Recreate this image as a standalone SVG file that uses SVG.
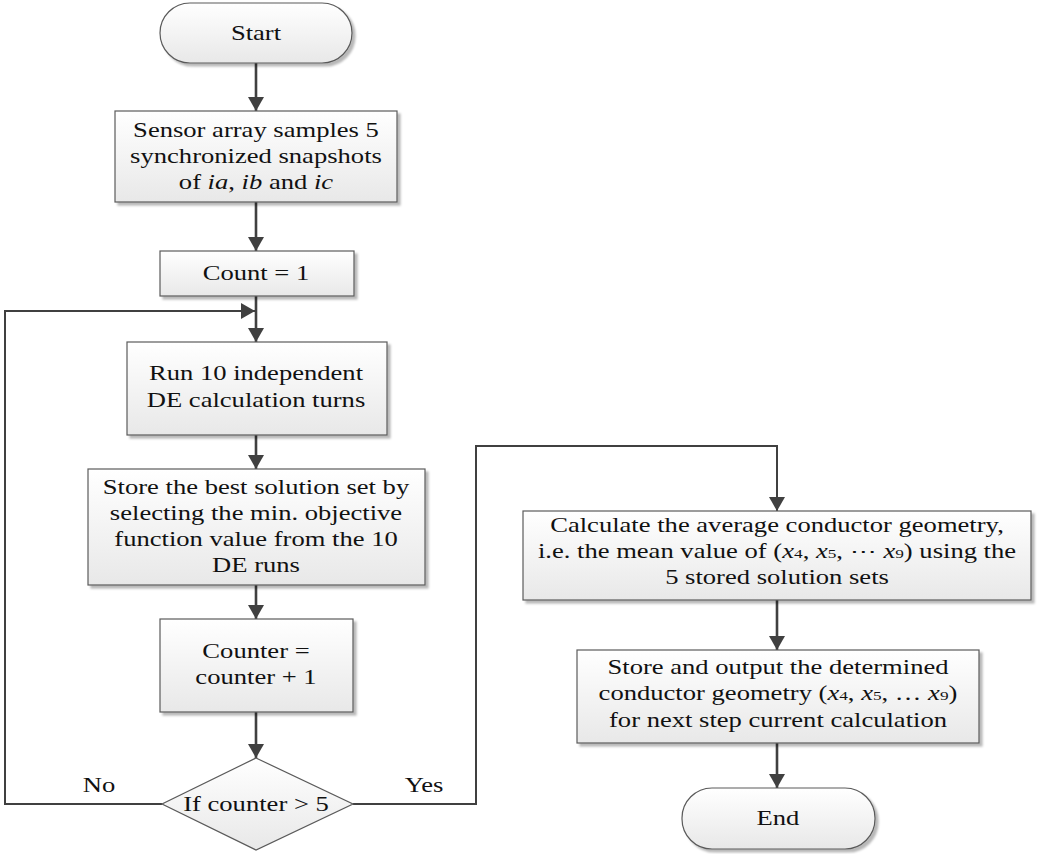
<svg xmlns="http://www.w3.org/2000/svg" width="1037" height="854" viewBox="0 0 1037 854">
  <defs>
    <linearGradient id="boxFill" x1="0" y1="0" x2="0" y2="1">
      <stop offset="0" stop-color="#ffffff"/>
      <stop offset="1" stop-color="#e8e8e8"/>
    </linearGradient>
    <filter id="shadow" x="-10%" y="-10%" width="130%" height="140%">
      <feDropShadow dx="3" dy="3" stdDeviation="1" flood-color="#000000" flood-opacity="0.28"/>
    </filter>
    <marker id="arrow" viewBox="0 0 14 16" refX="14" refY="8" markerWidth="14" markerHeight="16" markerUnits="userSpaceOnUse" orient="auto">
      <path d="M0,0 L14,8 L0,16 Z" fill="#404040"/>
    </marker>
  </defs>
  <style>
    .shape { fill: url(#boxFill); stroke: #5a5a5a; stroke-width: 1.2; }
    .shadowed { filter: url(#shadow); }
    .label { font-family: "Liberation Serif", "Times New Roman", serif; font-size: 20px; fill: #111111; text-anchor: middle; }
    .it { font-style: italic; }
    .sub { font-size: 13px; }
    .conn { fill: none; stroke: #404040; stroke-width: 2.6; }
    .loop { fill: none; stroke: #404040; stroke-width: 2; }
  </style>

  <rect width="1037" height="854" fill="#ffffff"/>

  <!-- connectors -->
  <g id="connectors">
    <line class="conn" x1="256" y1="63" x2="256" y2="111" marker-end="url(#arrow)"/>
    <line class="conn" x1="256" y1="202" x2="256" y2="251" marker-end="url(#arrow)"/>
    <line class="conn" x1="256" y1="296" x2="256" y2="342" marker-end="url(#arrow)"/>
    <line class="conn" x1="256" y1="435" x2="256" y2="469" marker-end="url(#arrow)"/>
    <line class="conn" x1="256" y1="585" x2="256" y2="619" marker-end="url(#arrow)"/>
    <line class="conn" x1="256" y1="712" x2="256" y2="758" marker-end="url(#arrow)"/>
    <!-- No branch: back to the loop entry -->
    <polyline class="loop" points="162,804 5,804 5,311 255,311" marker-end="url(#arrow)"/>
    <!-- Yes branch: on to averaging -->
    <polyline class="loop" points="353,804 476,804 476,446 777,446 777,511" marker-end="url(#arrow)"/>
    <line class="conn" x1="777" y1="600" x2="777" y2="650" marker-end="url(#arrow)"/>
    <line class="conn" x1="777" y1="743" x2="777" y2="788" marker-end="url(#arrow)"/>
    <g transform="translate(99 0) scale(1.33 1)"><text class="label" x="0" y="792">No</text></g>
    <g transform="translate(424 0) scale(1.33 1)"><text class="label" x="0" y="792">Yes</text></g>
  </g>

  <!-- left column; text is set in a horizontally widened serif -->
  <g id="start">
    <rect class="shape shadowed" x="160" y="3" width="192" height="60" rx="30" ry="30"/>
    <g transform="translate(256 0) scale(1.33 1)">
      <text class="label" x="0" y="40">Start</text>
    </g>
  </g>

  <g id="sample">
    <rect class="shape shadowed" x="115" y="111" width="282" height="91"/>
    <g transform="translate(256 0) scale(1.33 1)">
      <text class="label" x="0" y="137">Sensor array samples 5</text>
      <text class="label" x="0" y="163">synchronized snapshots</text>
      <text class="label" x="0" y="189">of <tspan class="it">ia</tspan>, <tspan class="it">ib</tspan> and <tspan class="it">ic</tspan></text>
    </g>
  </g>

  <g id="count-init">
    <rect class="shape shadowed" x="160" y="251" width="194" height="45"/>
    <g transform="translate(256 0) scale(1.33 1)">
      <text class="label" x="0" y="280">Count = 1</text>
    </g>
  </g>

  <g id="run-de">
    <rect class="shape shadowed" x="127" y="342" width="260" height="93"/>
    <g transform="translate(256 0) scale(1.33 1)">
      <text class="label" x="0" y="380">Run 10 independent</text>
      <text class="label" x="0" y="407">DE calculation turns</text>
    </g>
  </g>

  <g id="store-best">
    <rect class="shape shadowed" x="88" y="469" width="337" height="116"/>
    <g transform="translate(256 0) scale(1.33 1)">
      <text class="label" x="0" y="494">Store the best solution set by</text>
      <text class="label" x="0" y="520">selecting the min. objective</text>
      <text class="label" x="0" y="546">function value from the 10</text>
      <text class="label" x="0" y="572">DE runs</text>
    </g>
  </g>

  <g id="increment">
    <rect class="shape shadowed" x="160" y="619" width="193" height="93"/>
    <g transform="translate(256 0) scale(1.33 1)">
      <text class="label" x="0" y="658">Counter =</text>
      <text class="label" x="0" y="684">counter + 1</text>
    </g>
  </g>

  <g id="decision">
    <polygon class="shape" points="256,758 353,804 256,850 162,804"/>
    <g transform="translate(256 0) scale(1.33 1)">
      <text class="label" x="0" y="811">If counter &gt; 5</text>
    </g>
  </g>

  <!-- right column -->
  <g id="average">
    <rect class="shape shadowed" x="523" y="511" width="508" height="89"/>
    <g transform="translate(777 0) scale(1.33 1)">
      <text class="label" x="0" y="532">Calculate the average conductor geometry,</text>
      <text class="label" x="0" y="558">i.e. the mean value of (<tspan class="it">x</tspan><tspan class="sub">4</tspan>, <tspan class="it">x</tspan><tspan class="sub">5</tspan>, ⋯ <tspan class="it">x</tspan><tspan class="sub">9</tspan>) using the</text>
      <text class="label" x="0" y="584">5 stored solution sets</text>
    </g>
  </g>

  <g id="output">
    <rect class="shape shadowed" x="577" y="650" width="402" height="93"/>
    <g transform="translate(778 0) scale(1.33 1)">
      <text class="label" x="0" y="674">Store and output the determined</text>
      <text class="label" x="0" y="700">conductor geometry (<tspan class="it">x</tspan><tspan class="sub">4</tspan>, <tspan class="it">x</tspan><tspan class="sub">5</tspan>, … <tspan class="it">x</tspan><tspan class="sub">9</tspan>)</text>
      <text class="label" x="0" y="727">for next step current calculation</text>
    </g>
  </g>

  <g id="end">
    <rect class="shape shadowed" x="682" y="788" width="193" height="61" rx="30" ry="30"/>
    <g transform="translate(778 0) scale(1.33 1)">
      <text class="label" x="0" y="825">End</text>
    </g>
  </g>
</svg>
